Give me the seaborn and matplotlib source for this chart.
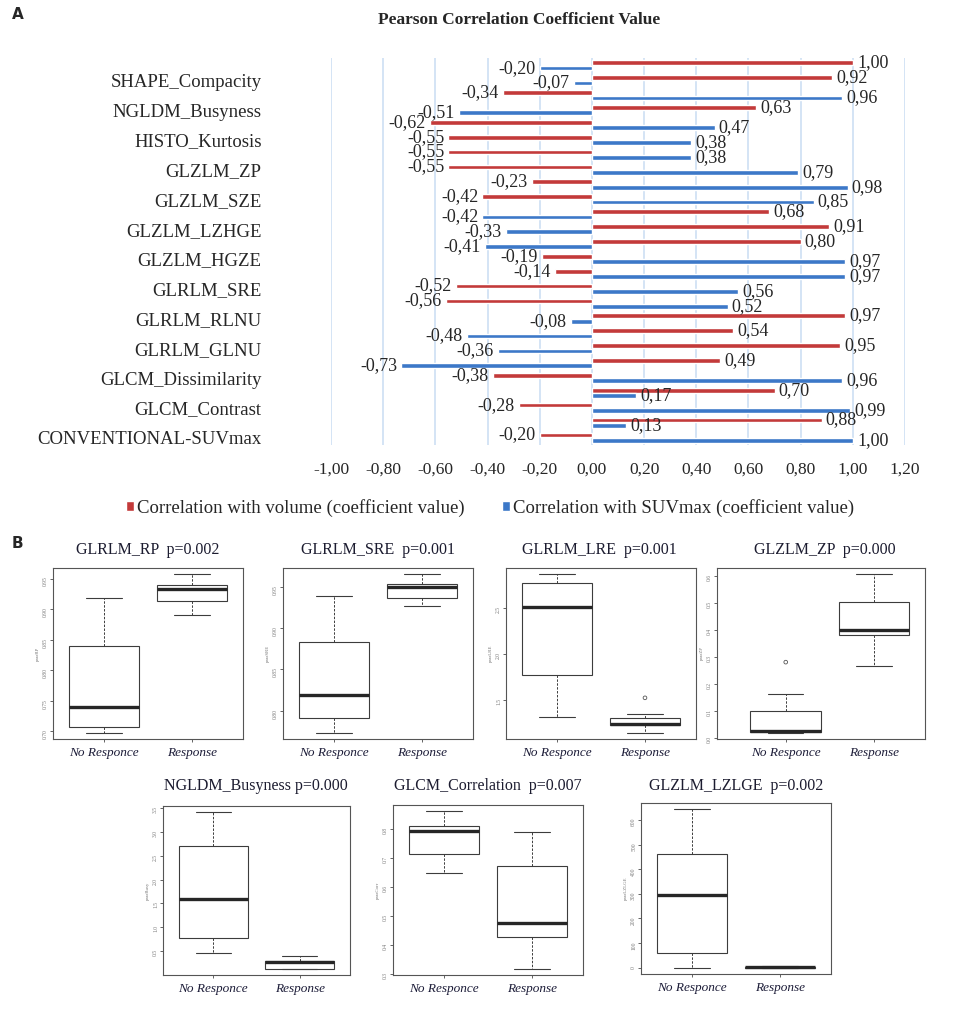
import numpy as np
import pandas as pd
import matplotlib
matplotlib.use("Agg")
import matplotlib.pyplot as plt
import seaborn as sns

# --------------------------------------------------------------------------
# Panel A data: 26 feature rows, top to bottom (only every other row labelled)
# --------------------------------------------------------------------------
row_labels = ["SHAPE_Compacity", "NGLDM_Busyness", "HISTO_Kurtosis", "GLZLM_ZP",
              "GLZLM_SZE", "GLZLM_LZHGE", "GLZLM_HGZE", "GLRLM_SRE", "GLRLM_RLNU",
              "GLRLM_GLNU", "GLCM_Dissimilarity", "GLCM_Contrast",
              "CONVENTIONAL-SUVmax"]
corr_volume = [1.00, 0.92, -0.34, 0.63, -0.62, -0.55, -0.55, -0.55, -0.23, -0.42,
               0.68, 0.91, 0.80, -0.19, -0.14, -0.52, -0.56, 0.97, 0.54, 0.95,
               0.49, -0.38, 0.70, -0.28, 0.88, -0.20]
corr_suvmax = [-0.20, -0.07, 0.96, -0.51, 0.47, 0.38, 0.38, 0.79, 0.98, 0.85,
               -0.42, -0.33, -0.41, 0.97, 0.97, 0.56, 0.52, -0.08, -0.48, -0.36,
               -0.73, 0.96, 0.17, 0.99, 0.13, 1.00]
series_names = ["Correlation with volume (coefficient value)",
                "Correlation with SUVmax (coefficient value)"]
x_ticks = [-1.0, -0.8, -0.6, -0.4, -0.2, 0.0, 0.2, 0.4, 0.6, 0.8, 1.0, 1.2]

# --------------------------------------------------------------------------
# Panel B data: five-number summaries (min, q1, median, q3, max) per group
# --------------------------------------------------------------------------
groups = ["No Responce", "Response"]
box_titles = ["GLRLM_RP  p=0.002", "GLRLM_SRE  p=0.001", "GLRLM_LRE  p=0.001",
              "GLZLM_ZP  p=0.000", "NGLDM_Busyness p=0.000",
              "GLCM_Correlation  p=0.007", "GLZLM_LZLGE  p=0.002"]
box_ylabels = ["paraRP", "paraSRE", "paraLRE", "paraZP", "paraBusy", "paraCorr", "paraLZLGE"]
box_noresp = [
    [0.698, 0.708, 0.740, 0.840, 0.919],
    [0.773, 0.791, 0.819, 0.883, 0.940],
    [1.316, 1.778, 2.517, 2.780, 2.870],
    [0.019, 0.022, 0.024, 0.100, 0.163],
    [0.47, 0.78, 1.60, 2.70, 3.41],
    [0.648, 0.713, 0.792, 0.808, 0.860],
    [0, 60, 297, 461, 643],
]
box_resp = [
    [0.891, 0.913, 0.933, 0.939, 0.957],
    [0.927, 0.937, 0.950, 0.954, 0.966],
    [1.147, 1.226, 1.237, 1.309, 1.352],
    [0.266, 0.379, 0.400, 0.503, 0.605],
    [0.13, 0.13, 0.28, 0.30, 0.40],
    [0.318, 0.427, 0.476, 0.672, 0.790],
    [0, 0, 2, 3, 5],
]
box_yticks = [
    [0.70, 0.75, 0.80, 0.85, 0.90, 0.95],
    [0.80, 0.85, 0.90, 0.95],
    [1.5, 2.0, 2.5],
    [0.0, 0.1, 0.2, 0.3, 0.4, 0.5, 0.6],
    [0.5, 1.0, 1.5, 2.0, 2.5, 3.0, 3.5],
    [0.3, 0.4, 0.5, 0.6, 0.7, 0.8],
    [0, 100, 200, 300, 400, 500, 600],
]
box_decimals = [2, 2, 1, 1, 1, 1, 0]
outlier_panel = [2, 3]
outlier_group = ["Response", "No Responce"]
outlier_value = [1.526, 0.28]

# layout (pixels on a 957x1015 canvas)
W, H = 957, 1015
RED, BLUE = "#c33a3a", "#3c78c8"
box_frames = [(53, 568, 243, 739), (283, 568, 473, 739), (506, 568, 696, 739),
              (717, 568, 925, 739), (163, 806, 350, 975), (393, 805, 583, 975),
              (641, 803, 831, 974)]
box_xlims = [(-0.58, 1.58)] * 3 + [(-0.78, 1.58)] + [(-0.58, 1.58)] * 3
title_pos = [(148, 550), (378, 550), (599, 550), (825, 550),
             (256, 786), (488, 786), (736, 786)]

sns.set_style("white")
plt.rcParams["font.family"] = ["Liberation Serif", "DejaVu Serif"]

fig = plt.figure(figsize=(W / 100, H / 100), dpi=100)


def px_axes(l, t, r, b):
    return fig.add_axes([l / W, 1 - b / H, (r - l) / W, (b - t) / H])


def comma(v, nd=2):
    return f"{v:.{nd}f}".replace(".", ",")


# --------------------------------------------------------------------------
# Panel A: horizontal bar chart
# --------------------------------------------------------------------------
axA = px_axes(331, 58, 905, 445)
n_rows = len(corr_volume)
dfA = pd.DataFrame({
    "row": list(range(n_rows)) * 2,
    "value": corr_volume + corr_suvmax,
    "series": [series_names[0]] * n_rows + [series_names[1]] * n_rows,
})
sns.barplot(data=dfA, x="value", y="row", hue="series", orient="h",
            order=list(range(n_rows)), hue_order=series_names,
            palette=[RED, BLUE], saturation=1, width=0.72, gap=0.12, ax=axA)
handles, labels = axA.get_legend_handles_labels()
axA.get_legend().remove()

for cont, vals in zip(axA.containers, [corr_volume, corr_suvmax]):
    axA.bar_label(cont, labels=[comma(v) for v in vals], padding=3, fontsize=13)

axA.set_xlim(-1.0, 1.2)
axA.set_xticks(x_ticks)
axA.set_xticklabels([comma(t) for t in x_ticks], fontsize=12.5)
axA.set_yticks(list(range(1, n_rows, 2)))
axA.set_yticklabels(row_labels, fontsize=13.5)
axA.tick_params(axis="y", length=0, pad=50)
axA.tick_params(axis="x", length=0, pad=12)
axA.grid(axis="x", color="#c9dcf2", linewidth=1.1)
axA.grid(axis="y", visible=False)
axA.set_axisbelow(True)
for s in axA.spines.values():
    s.set_visible(False)
axA.set_xlabel("")
axA.set_ylabel("")

fig.text(519 / W, 1 - 20 / H, "Pearson Correlation Coefficient Value",
         ha="center", va="center", fontsize=12.5, fontweight="bold")
fig.legend(handles, labels, loc="center", bbox_to_anchor=(490 / W, 1 - 508 / H),
           ncol=2, frameon=False, fontsize=13.5, handlelength=0.45,
           handleheight=0.45, handletextpad=0.15, columnspacing=2.0)

# --------------------------------------------------------------------------
# Panel B: box plots
# --------------------------------------------------------------------------
for i, frame in enumerate(box_frames):
    ax = px_axes(*frame)
    df = pd.DataFrame({"group": [groups[0]] * 5 + [groups[1]] * 5,
                       "value": box_noresp[i] + box_resp[i]})
    sns.boxplot(data=df, x="group", y="value", order=groups, whis=(0, 100),
                width=0.8, color="white", linecolor="#3c3c3c", linewidth=0.8,
                showfliers=False,
                medianprops={"color": "#262626", "linewidth": 2.4},
                whiskerprops={"linestyle": (0, (2.5, 1.5)), "linewidth": 0.7},
                ax=ax)
    vals = box_noresp[i] + box_resp[i]
    for j, p in enumerate(outlier_panel):
        if p == i:
            ax.scatter(groups.index(outlier_group[j]), outlier_value[j], s=7,
                       facecolors="none", edgecolors="#555555", linewidths=0.6)
            vals = vals + [outlier_value[j]]
    lo, hi = min(vals), max(vals)
    pad = (hi - lo) * 0.04
    ax.set_ylim(lo - pad, hi + pad)
    ax.set_xlim(*box_xlims[i])
    ax.set_yticks(box_yticks[i])
    ax.set_yticklabels([f"{t:.{box_decimals[i]}f}" for t in box_yticks[i]])
    ax.tick_params(axis="y", labelsize=4, length=2.5, width=0.5, pad=1,
                   labelcolor="#777777", labelrotation=90, left=True)
    ax.set_xticks([0, 1])
    ax.set_xticklabels(groups, fontsize=9.5, fontstyle="italic", color="#1c1c38")
    ax.tick_params(axis="x", length=2.5, width=0.5, pad=3, bottom=True)
    ax.set_xlabel("")
    ax.set_ylabel(box_ylabels[i], fontsize=3.5, color="#777777", labelpad=2)
    for s in ax.spines.values():
        s.set_visible(True)
        s.set_color("#555555")
        s.set_linewidth(0.8)
    cx, cy = title_pos[i]
    fig.text(cx / W, 1 - cy / H, box_titles[i], ha="center", va="center",
             fontsize=11.5, color="#1c1c30")

fig.text(12 / W, 1 - 19 / H, "A", family="DejaVu Sans", fontweight="bold", fontsize=11)
fig.text(12 / W, 1 - 548 / H, "B", family="DejaVu Sans", fontweight="bold", fontsize=11)

fig.savefig("out.png", dpi=100)
